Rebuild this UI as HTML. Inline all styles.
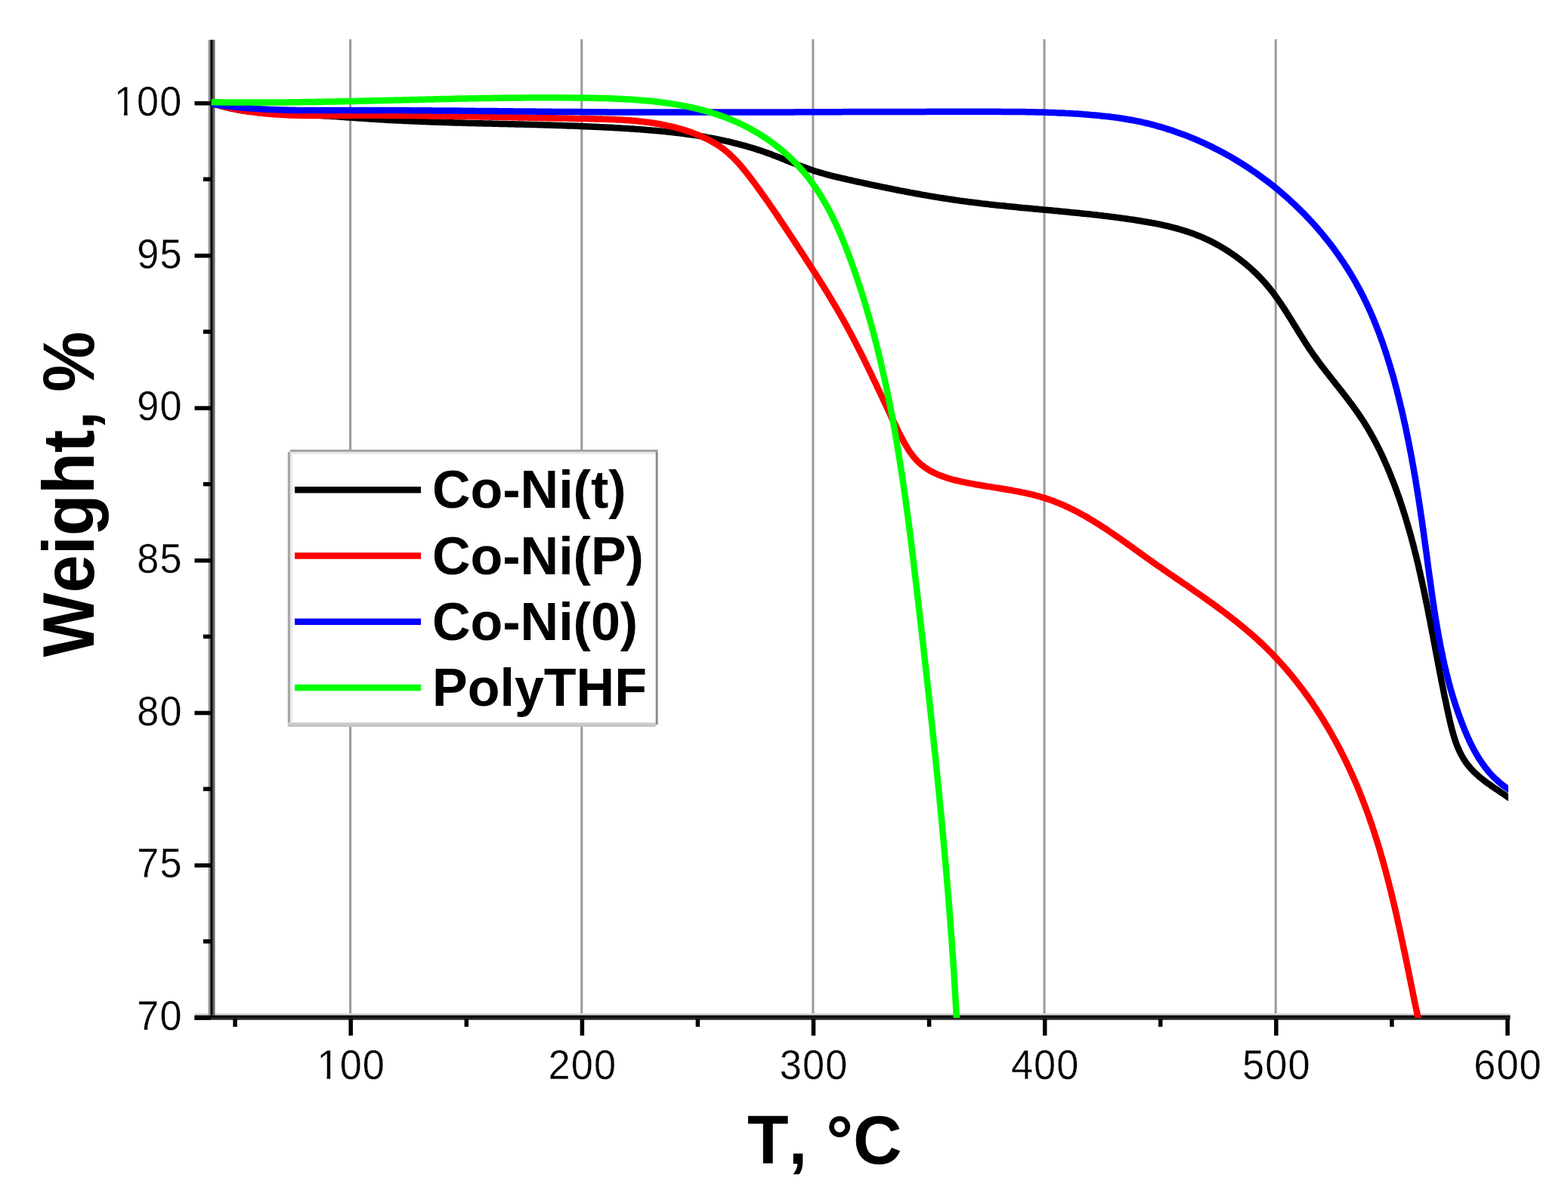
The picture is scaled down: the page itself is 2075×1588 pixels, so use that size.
<!DOCTYPE html><html><head><meta charset="utf-8"><title>TGA curves</title><style>
html,body{margin:0;padding:0;background:#fff;}body{width:2075px;height:1588px;overflow:hidden;}svg{display:block;}
text{font-family:"Liberation Sans",Arial,sans-serif;fill:#000;font-kerning:none;}
</style></head><body>
<svg width="2075" height="1588" viewBox="0 0 2075 1588">
<rect width="2075" height="1588" fill="#fff"/>
<defs><clipPath id="pc"><rect x="278.3" y="52.0" width="1717.7" height="1295.0"/></clipPath>
</defs>
<rect x="462.10" y="52.00" width="3.00" height="1289.00" fill="#9a9a9a"/>
<rect x="768.25" y="52.00" width="3.00" height="1289.00" fill="#9a9a9a"/>
<rect x="1074.40" y="52.00" width="3.00" height="1289.00" fill="#9a9a9a"/>
<rect x="1380.55" y="52.00" width="3.00" height="1289.00" fill="#9a9a9a"/>
<rect x="1686.70" y="52.00" width="3.00" height="1289.00" fill="#9a9a9a"/>
<rect x="257.50" y="1340.90" width="1741.00" height="3.10" fill="#d8d8d8"/>
<rect x="275.50" y="52.70" width="3.50" height="1290.90" fill="#9c9c9c"/>
<rect x="281.00" y="52.70" width="3.50" height="1290.90" fill="#666"/>
<rect x="278.40" y="52.70" width="3.00" height="1290.90" fill="#000"/>
<rect x="257.50" y="1346.00" width="1741.00" height="3.70" fill="#282828"/>
<rect x="257.50" y="1343.60" width="1741.00" height="2.90" fill="#000"/>
<g clip-path="url(#pc)" fill="none" stroke-width="8.5" stroke-linejoin="round">
<path d="M280.0,136.0L282.8,137.0 285.7,137.9 288.5,138.9 291.4,139.7 294.3,140.6 297.1,141.4 300.1,142.1 303.0,142.8 305.9,143.5 308.8,144.1 311.8,144.7 314.7,145.2 317.7,145.7 320.6,146.2 323.6,146.6 326.6,147.1 329.5,147.4 332.5,147.8 335.5,148.1 338.5,148.4 341.5,148.7 344.4,149.0 347.4,149.2 350.4,149.4 353.4,149.6 356.4,149.8 359.4,150.0 362.4,150.2 365.4,150.3 368.4,150.4 371.4,150.6 374.4,150.7 377.4,150.8 380.4,150.9 383.3,151.0 386.3,151.1 389.3,151.3 392.3,151.4 395.3,151.5 398.3,151.6 401.3,151.7 404.3,151.9 407.3,152.0 410.3,152.2 413.3,152.3 416.3,152.5 419.3,152.7 422.3,152.8 425.3,153.0 428.3,153.2 431.3,153.4 434.2,153.6 437.2,153.7 440.2,153.9 443.2,154.1 446.2,154.3 449.2,154.5 452.2,154.8 455.2,155.0 458.2,155.2 461.2,155.4 464.2,155.6 467.1,155.8 470.1,156.0 473.1,156.2 476.1,156.4 479.1,156.6 482.1,156.8 485.1,157.0 488.1,157.2 491.1,157.4 494.1,157.6 497.1,157.8 500.0,158.0 503.0,158.2 506.0,158.3 509.0,158.5 512.0,158.7 515.0,158.9 518.0,159.0 521.0,159.2 524.0,159.3 527.0,159.5 530.0,159.6 533.0,159.8 536.0,159.9 539.0,160.1 542.0,160.2 544.9,160.3 547.9,160.5 550.9,160.6 553.9,160.7 556.9,160.8 559.9,160.9 562.9,161.1 565.9,161.2 568.9,161.3 571.9,161.4 574.9,161.5 577.9,161.6 580.9,161.7 583.9,161.8 586.9,161.9 589.9,162.0 592.9,162.1 595.9,162.2 598.9,162.3 601.9,162.4 604.9,162.4 607.9,162.5 610.9,162.6 613.9,162.7 616.8,162.8 619.8,162.9 622.8,162.9 625.8,163.0 628.8,163.1 631.8,163.2 634.8,163.2 637.8,163.3 640.8,163.4 643.8,163.5 646.8,163.5 649.8,163.6 652.8,163.7 655.8,163.8 658.8,163.8 661.8,163.9 664.8,164.0 667.8,164.0 670.8,164.1 673.8,164.2 676.8,164.3 679.8,164.3 682.8,164.4 685.8,164.5 688.8,164.5 691.8,164.6 694.8,164.7 697.8,164.8 700.8,164.8 703.8,164.9 706.7,165.0 709.7,165.1 712.7,165.2 715.7,165.2 718.7,165.3 721.7,165.4 724.7,165.5 727.7,165.6 730.7,165.7 733.7,165.8 736.7,165.9 739.7,166.0 742.7,166.1 745.7,166.2 748.7,166.3 751.7,166.4 754.7,166.5 757.7,166.6 760.7,166.7 763.7,166.8 766.7,166.9 769.7,167.0 772.7,167.2 775.7,167.3 778.7,167.4 781.6,167.5 784.6,167.7 787.6,167.8 790.6,167.9 793.6,168.1 796.6,168.2 799.6,168.4 802.6,168.5 805.6,168.7 808.6,168.8 811.6,169.0 814.6,169.2 817.6,169.3 820.6,169.5 823.6,169.7 826.5,169.9 829.5,170.1 832.5,170.3 835.5,170.4 838.5,170.6 841.5,170.9 844.5,171.1 847.5,171.3 850.5,171.5 853.5,171.7 856.5,172.0 859.4,172.2 862.4,172.5 865.4,172.7 868.4,173.0 871.4,173.3 874.4,173.5 877.4,173.8 880.3,174.1 883.3,174.4 886.3,174.8 889.3,175.1 892.3,175.4 895.2,175.8 898.2,176.1 901.2,176.5 904.2,176.9 907.1,177.3 910.1,177.7 913.1,178.1 916.0,178.5 919.0,178.9 922.0,179.4 924.9,179.9 927.9,180.3 930.8,180.8 933.8,181.3 936.7,181.9 939.7,182.4 942.6,182.9 945.6,183.5 948.5,184.1 951.5,184.7 954.4,185.3 957.3,185.9 960.3,186.6 963.2,187.2 966.1,187.9 969.0,188.6 971.9,189.3 974.8,190.0 977.7,190.8 980.6,191.6 983.5,192.3 986.4,193.1 989.3,194.0 992.2,194.8 995.1,195.7 997.9,196.5 1000.8,197.4 1003.6,198.4 1006.5,199.3 1009.3,200.3 1012.2,201.2 1015.0,202.2 1017.8,203.3 1020.6,204.3 1023.4,205.4 1026.2,206.4 1029.0,207.5 1031.8,208.6 1034.6,209.7 1037.4,210.8 1040.1,212.0 1042.9,213.1 1045.7,214.2 1048.5,215.3 1051.3,216.4 1054.1,217.5 1056.9,218.6 1059.6,219.7 1062.5,220.8 1065.3,221.8 1068.1,222.8 1070.9,223.8 1073.7,224.8 1076.6,225.7 1079.4,226.7 1082.3,227.5 1085.2,228.4 1088.1,229.2 1090.9,230.0 1093.8,230.8 1096.7,231.6 1099.6,232.4 1102.5,233.1 1105.5,233.8 1108.4,234.5 1111.3,235.2 1114.2,235.9 1117.1,236.5 1120.0,237.2 1123.0,237.9 1125.9,238.5 1128.8,239.2 1131.8,239.8 1134.7,240.5 1137.6,241.1 1140.5,241.7 1143.5,242.4 1146.4,243.0 1149.3,243.6 1152.3,244.3 1155.2,244.9 1158.1,245.5 1161.1,246.1 1164.0,246.7 1166.9,247.3 1169.9,247.9 1172.8,248.5 1175.7,249.1 1178.7,249.7 1181.6,250.3 1184.6,250.9 1187.5,251.5 1190.4,252.1 1193.4,252.6 1196.3,253.2 1199.3,253.8 1202.2,254.3 1205.2,254.9 1208.1,255.4 1211.1,256.0 1214.0,256.5 1217.0,257.0 1219.9,257.6 1222.9,258.1 1225.8,258.6 1228.8,259.1 1231.7,259.6 1234.7,260.1 1237.6,260.6 1240.6,261.1 1243.6,261.6 1246.5,262.0 1249.5,262.5 1252.4,262.9 1255.4,263.4 1258.4,263.8 1261.3,264.3 1264.3,264.7 1267.3,265.1 1270.2,265.6 1273.2,266.0 1276.2,266.4 1279.1,266.8 1282.1,267.2 1285.1,267.5 1288.1,267.9 1291.0,268.3 1294.0,268.6 1297.0,269.0 1300.0,269.4 1302.9,269.7 1305.9,270.0 1308.9,270.4 1311.9,270.7 1314.9,271.0 1317.8,271.4 1320.8,271.7 1323.8,272.0 1326.8,272.3 1329.8,272.6 1332.7,272.9 1335.7,273.2 1338.7,273.5 1341.7,273.8 1344.7,274.1 1347.7,274.4 1350.6,274.7 1353.6,275.0 1356.6,275.2 1359.6,275.5 1362.6,275.8 1365.6,276.1 1368.6,276.4 1371.5,276.6 1374.5,276.9 1377.5,277.2 1380.5,277.5 1383.5,277.7 1386.5,278.0 1389.4,278.3 1392.4,278.6 1395.4,278.9 1398.4,279.1 1401.4,279.4 1404.4,279.7 1407.4,280.0 1410.3,280.3 1413.3,280.6 1416.3,280.9 1419.3,281.2 1422.3,281.5 1425.3,281.8 1428.2,282.1 1431.2,282.4 1434.2,282.7 1437.2,283.0 1440.2,283.3 1443.1,283.6 1446.1,284.0 1449.1,284.3 1452.1,284.6 1455.1,285.0 1458.0,285.3 1461.0,285.7 1464.0,286.0 1467.0,286.4 1469.9,286.8 1472.9,287.1 1475.9,287.5 1478.9,287.9 1481.8,288.3 1484.8,288.7 1487.8,289.1 1490.7,289.5 1493.7,290.0 1496.7,290.4 1499.6,290.8 1502.6,291.3 1505.6,291.7 1508.5,292.2 1511.5,292.7 1514.4,293.2 1517.4,293.7 1520.3,294.2 1523.3,294.7 1526.2,295.3 1529.2,295.8 1532.1,296.4 1535.1,297.0 1538.0,297.6 1540.9,298.3 1543.8,298.9 1546.8,299.6 1549.7,300.3 1552.6,301.1 1555.5,301.8 1558.4,302.6 1561.3,303.5 1564.1,304.3 1567.0,305.2 1569.9,306.1 1572.7,307.0 1575.5,308.0 1578.4,309.0 1581.2,310.1 1584.0,311.2 1586.7,312.3 1589.5,313.4 1592.3,314.6 1595.0,315.9 1597.7,317.1 1600.4,318.4 1603.1,319.7 1605.8,321.1 1608.4,322.5 1611.1,323.9 1613.7,325.4 1616.3,326.9 1618.8,328.4 1621.4,330.0 1623.9,331.6 1626.5,333.2 1629.0,334.9 1631.4,336.6 1633.9,338.3 1636.3,340.0 1638.7,341.8 1641.1,343.6 1643.5,345.5 1645.8,347.3 1648.2,349.2 1650.4,351.2 1652.7,353.1 1655.0,355.1 1657.2,357.1 1659.4,359.2 1661.5,361.2 1663.7,363.3 1665.8,365.5 1667.9,367.6 1669.9,369.8 1672.0,372.0 1674.0,374.2 1675.9,376.5 1677.8,378.8 1679.8,381.1 1681.6,383.5 1683.5,385.8 1685.3,388.2 1687.1,390.6 1688.8,393.0 1690.6,395.5 1692.3,397.9 1694.0,400.4 1695.7,402.9 1697.3,405.4 1699.0,407.9 1700.6,410.4 1702.2,412.9 1703.8,415.4 1705.4,418.0 1707.0,420.5 1708.6,423.1 1710.2,425.6 1711.8,428.2 1713.3,430.7 1714.9,433.3 1716.5,435.8 1718.0,438.4 1719.6,440.9 1721.2,443.5 1722.8,446.0 1724.4,448.6 1726.0,451.1 1727.6,453.6 1729.2,456.2 1730.9,458.7 1732.5,461.2 1734.2,463.6 1735.9,466.1 1737.6,468.6 1739.3,471.0 1741.1,473.4 1742.9,475.9 1744.6,478.3 1746.4,480.7 1748.2,483.1 1750.0,485.5 1751.9,487.8 1753.7,490.2 1755.5,492.6 1757.4,494.9 1759.2,497.3 1761.1,499.7 1762.9,502.0 1764.8,504.4 1766.7,506.7 1768.5,509.1 1770.4,511.4 1772.3,513.8 1774.1,516.1 1776.0,518.5 1777.8,520.8 1779.6,523.2 1781.5,525.6 1783.3,528.0 1785.1,530.3 1786.9,532.7 1788.7,535.1 1790.5,537.6 1792.2,540.0 1794.0,542.4 1795.7,544.9 1797.4,547.3 1799.1,549.8 1800.8,552.3 1802.5,554.8 1804.1,557.3 1805.7,559.8 1807.3,562.4 1808.9,564.9 1810.4,567.5 1811.9,570.1 1813.4,572.7 1814.9,575.3 1816.4,577.9 1817.8,580.5 1819.2,583.2 1820.6,585.8 1822.0,588.5 1823.3,591.2 1824.7,593.8 1826.0,596.5 1827.3,599.2 1828.6,601.9 1829.8,604.7 1831.1,607.4 1832.3,610.1 1833.5,612.9 1834.7,615.6 1835.9,618.4 1837.1,621.1 1838.2,623.9 1839.4,626.7 1840.5,629.4 1841.6,632.2 1842.7,635.0 1843.8,637.8 1844.9,640.6 1845.9,643.4 1847.0,646.2 1848.0,649.0 1849.0,651.9 1850.0,654.7 1851.0,657.5 1852.0,660.3 1853.0,663.2 1853.9,666.0 1854.9,668.9 1855.8,671.7 1856.7,674.6 1857.6,677.4 1858.5,680.3 1859.4,683.1 1860.3,686.0 1861.2,688.9 1862.0,691.8 1862.9,694.6 1863.7,697.5 1864.5,700.4 1865.4,703.3 1866.2,706.2 1867.0,709.0 1867.8,711.9 1868.5,714.8 1869.3,717.7 1870.1,720.6 1870.8,723.5 1871.6,726.4 1872.3,729.3 1873.0,732.2 1873.8,735.2 1874.5,738.1 1875.2,741.0 1875.9,743.9 1876.6,746.8 1877.3,749.7 1877.9,752.7 1878.6,755.6 1879.3,758.5 1879.9,761.4 1880.6,764.3 1881.2,767.3 1881.9,770.2 1882.5,773.1 1883.1,776.1 1883.8,779.0 1884.4,781.9 1885.0,784.9 1885.6,787.8 1886.2,790.7 1886.8,793.7 1887.4,796.6 1888.0,799.5 1888.6,802.5 1889.2,805.4 1889.8,808.4 1890.4,811.3 1890.9,814.2 1891.5,817.2 1892.1,820.1 1892.7,823.1 1893.2,826.0 1893.8,829.0 1894.4,831.9 1894.9,834.8 1895.5,837.8 1896.1,840.7 1896.6,843.7 1897.2,846.6 1897.7,849.6 1898.3,852.5 1898.9,855.5 1899.4,858.4 1900.0,861.3 1900.5,864.3 1901.1,867.2 1901.7,870.2 1902.2,873.1 1902.8,876.1 1903.3,879.0 1903.9,882.0 1904.5,884.9 1905.0,887.8 1905.6,890.8 1906.2,893.7 1906.8,896.7 1907.3,899.6 1907.9,902.6 1908.5,905.5 1909.1,908.4 1909.7,911.4 1910.3,914.3 1910.8,917.3 1911.4,920.2 1912.0,923.1 1912.7,926.1 1913.3,929.0 1913.9,931.9 1914.5,934.9 1915.1,937.8 1915.8,940.7 1916.4,943.7 1917.0,946.6 1917.7,949.5 1918.3,952.4 1919.0,955.4 1919.7,958.3 1920.4,961.2 1921.1,964.1 1921.9,967.0 1922.7,969.9 1923.5,972.8 1924.4,975.6 1925.3,978.5 1926.2,981.3 1927.3,984.2 1928.3,987.0 1929.5,989.7 1930.7,992.5 1931.9,995.2 1933.3,997.9 1934.7,1000.5 1936.2,1003.1 1937.7,1005.7 1939.4,1008.2 1941.1,1010.6 1943.0,1013.0 1944.9,1015.3 1946.8,1017.6 1948.9,1019.7 1951.0,1021.9 1953.2,1023.9 1955.4,1025.9 1957.7,1027.9 1960.0,1029.8 1962.3,1031.7 1964.7,1033.5 1967.1,1035.3 1969.5,1037.1 1972.0,1038.8 1974.4,1040.5 1976.9,1042.2 1979.4,1043.9 1981.9,1045.6 1984.3,1047.3 1986.8,1048.9 1989.3,1050.6 1991.8,1052.3 1994.3,1054.0 1996.8,1055.7 1999.2,1057.4 2001.6,1059.1" stroke="#000"/>
<path d="M279.9,136.4L282.8,137.3 285.6,138.1 288.5,139.0 291.4,139.8 294.3,140.5 297.2,141.3 300.1,142.0 303.1,142.7 306.0,143.3 308.9,143.9 311.8,144.5 314.8,145.1 317.7,145.7 320.7,146.2 323.6,146.7 326.6,147.2 329.6,147.6 332.5,148.0 335.5,148.4 338.5,148.8 341.5,149.2 344.4,149.5 347.4,149.9 350.4,150.2 353.4,150.4 356.4,150.7 359.3,150.9 362.3,151.2 365.3,151.4 368.3,151.6 371.3,151.8 374.3,151.9 377.3,152.1 380.3,152.2 383.3,152.4 386.3,152.5 389.3,152.6 392.3,152.7 395.3,152.7 398.3,152.8 401.3,152.9 404.3,152.9 407.3,152.9 410.3,153.0 413.3,153.0 416.3,153.0 419.2,153.0 422.2,153.0 425.2,153.0 428.2,153.0 431.2,153.0 434.2,153.0 437.2,153.0 440.2,153.0 443.2,153.0 446.2,153.0 449.2,152.9 452.2,152.9 455.2,152.9 458.2,152.9 461.2,152.9 464.2,152.9 467.2,152.8 470.2,152.8 473.2,152.8 476.2,152.8 479.2,152.8 482.2,152.8 485.2,152.8 488.2,152.8 491.2,152.8 494.2,152.8 497.2,152.8 500.2,152.8 503.2,152.8 506.2,152.8 509.2,152.8 512.2,152.9 515.2,152.9 518.2,152.9 521.2,152.9 524.2,152.9 527.2,152.9 530.2,153.0 533.2,153.0 536.2,153.0 539.2,153.0 542.1,153.1 545.1,153.1 548.1,153.1 551.1,153.1 554.1,153.2 557.1,153.2 560.1,153.2 563.1,153.3 566.1,153.3 569.1,153.4 572.1,153.4 575.1,153.4 578.1,153.5 581.1,153.5 584.1,153.6 587.1,153.6 590.1,153.6 593.1,153.7 596.1,153.7 599.1,153.8 602.1,153.8 605.1,153.9 608.1,153.9 611.1,154.0 614.1,154.0 617.1,154.1 620.1,154.1 623.1,154.2 626.1,154.2 629.1,154.3 632.1,154.3 635.1,154.4 638.1,154.4 641.1,154.5 644.1,154.6 647.1,154.6 650.0,154.7 653.0,154.7 656.0,154.8 659.0,154.8 662.0,154.9 665.0,155.0 668.0,155.0 671.0,155.1 674.0,155.1 677.0,155.2 680.0,155.3 683.0,155.3 686.0,155.4 689.0,155.4 692.0,155.5 695.0,155.6 698.0,155.6 701.0,155.7 704.0,155.7 707.0,155.8 710.0,155.9 713.0,155.9 716.0,156.0 719.0,156.0 722.0,156.1 725.0,156.2 728.0,156.2 731.0,156.3 734.0,156.3 737.0,156.4 740.0,156.5 743.0,156.5 746.0,156.6 748.9,156.6 751.9,156.7 754.9,156.7 757.9,156.8 760.9,156.9 763.9,156.9 766.9,157.0 769.9,157.0 772.9,157.1 775.9,157.1 778.9,157.2 781.9,157.2 784.9,157.3 787.9,157.4 790.9,157.4 793.9,157.5 796.9,157.6 799.9,157.7 802.9,157.8 805.9,157.9 808.9,158.0 811.9,158.1 814.9,158.2 817.9,158.4 820.9,158.5 823.9,158.7 826.8,158.9 829.8,159.1 832.8,159.3 835.8,159.6 838.8,159.8 841.8,160.1 844.8,160.4 847.8,160.7 850.7,161.0 853.7,161.4 856.7,161.7 859.7,162.1 862.6,162.5 865.6,163.0 868.5,163.5 871.5,164.0 874.5,164.5 877.4,165.1 880.3,165.6 883.3,166.3 886.2,166.9 889.1,167.6 892.0,168.3 894.9,169.0 897.8,169.8 900.7,170.6 903.6,171.5 906.4,172.4 909.3,173.3 912.1,174.3 915.0,175.3 917.8,176.3 920.6,177.4 923.4,178.5 926.1,179.6 928.9,180.8 931.6,182.1 934.3,183.3 937.0,184.7 939.7,186.1 942.3,187.5 944.9,189.0 947.5,190.5 950.0,192.1 952.5,193.8 954.9,195.5 957.4,197.3 959.7,199.1 962.0,201.0 964.3,203.0 966.5,205.0 968.7,207.1 970.9,209.2 973.0,211.3 975.0,213.5 977.1,215.7 979.0,217.9 981.0,220.2 982.9,222.5 984.8,224.8 986.7,227.1 988.6,229.5 990.4,231.8 992.3,234.2 994.1,236.6 995.9,239.0 997.7,241.4 999.4,243.8 1001.2,246.2 1003.0,248.6 1004.7,251.1 1006.5,253.5 1008.2,255.9 1010.0,258.4 1011.7,260.8 1013.4,263.3 1015.2,265.7 1016.9,268.2 1018.6,270.7 1020.3,273.1 1022.0,275.6 1023.7,278.1 1025.4,280.5 1027.0,283.0 1028.7,285.5 1030.4,288.0 1032.1,290.5 1033.7,293.0 1035.4,295.5 1037.1,298.0 1038.7,300.5 1040.4,303.0 1042.0,305.5 1043.7,308.0 1045.3,310.5 1047.0,313.0 1048.6,315.5 1050.3,318.0 1051.9,320.5 1053.6,323.0 1055.2,325.5 1056.8,328.0 1058.5,330.5 1060.1,333.0 1061.8,335.5 1063.4,338.0 1065.0,340.6 1066.7,343.1 1068.3,345.6 1069.9,348.1 1071.6,350.6 1073.2,353.1 1074.8,355.7 1076.4,358.2 1078.0,360.7 1079.7,363.2 1081.3,365.8 1082.9,368.3 1084.5,370.8 1086.1,373.4 1087.7,375.9 1089.2,378.4 1090.8,381.0 1092.4,383.5 1094.0,386.1 1095.5,388.6 1097.1,391.2 1098.7,393.8 1100.2,396.3 1101.7,398.9 1103.3,401.5 1104.8,404.1 1106.3,406.6 1107.8,409.2 1109.3,411.8 1110.8,414.4 1112.3,417.0 1113.8,419.6 1115.3,422.2 1116.8,424.9 1118.2,427.5 1119.7,430.1 1121.1,432.7 1122.5,435.4 1123.9,438.0 1125.4,440.6 1126.8,443.3 1128.2,445.9 1129.6,448.6 1131.0,451.3 1132.3,453.9 1133.7,456.6 1135.1,459.2 1136.4,461.9 1137.8,464.6 1139.2,467.3 1140.5,469.9 1141.8,472.6 1143.2,475.3 1144.5,478.0 1145.8,480.7 1147.1,483.4 1148.5,486.1 1149.8,488.8 1151.1,491.5 1152.4,494.2 1153.7,496.9 1155.0,499.6 1156.3,502.3 1157.6,505.0 1158.9,507.7 1160.2,510.4 1161.4,513.1 1162.7,515.8 1164.0,518.5 1165.3,521.2 1166.6,523.9 1167.8,526.6 1169.1,529.4 1170.4,532.1 1171.7,534.8 1172.9,537.5 1174.2,540.2 1175.5,542.9 1176.8,545.6 1178.0,548.3 1179.3,551.1 1180.6,553.8 1181.9,556.5 1183.2,559.2 1184.5,561.9 1185.8,564.6 1187.1,567.3 1188.4,570.0 1189.7,572.7 1191.1,575.3 1192.5,578.0 1193.9,580.6 1195.3,583.3 1196.7,585.9 1198.2,588.5 1199.8,591.1 1201.3,593.6 1202.9,596.2 1204.6,598.6 1206.4,601.1 1208.2,603.5 1210.1,605.8 1212.0,608.0 1214.1,610.2 1216.3,612.3 1218.5,614.3 1220.8,616.2 1223.2,618.0 1225.7,619.7 1228.2,621.3 1230.8,622.9 1233.4,624.3 1236.1,625.7 1238.8,626.9 1241.5,628.1 1244.3,629.3 1247.1,630.3 1249.9,631.3 1252.8,632.3 1255.6,633.2 1258.5,634.0 1261.4,634.8 1264.3,635.5 1267.2,636.2 1270.2,636.9 1273.1,637.6 1276.0,638.2 1279.0,638.8 1281.9,639.3 1284.8,639.9 1287.8,640.4 1290.7,641.0 1293.7,641.5 1296.6,642.0 1299.6,642.5 1302.6,643.0 1305.5,643.5 1308.5,643.9 1311.4,644.4 1314.4,644.9 1317.4,645.4 1320.3,645.8 1323.3,646.3 1326.2,646.8 1329.2,647.3 1332.1,647.8 1335.1,648.3 1338.1,648.8 1341.0,649.3 1344.0,649.9 1346.9,650.4 1349.8,651.0 1352.8,651.6 1355.7,652.2 1358.6,652.9 1361.6,653.5 1364.5,654.2 1367.4,654.9 1370.3,655.7 1373.2,656.4 1376.1,657.2 1379.0,658.1 1381.8,658.9 1384.7,659.8 1387.5,660.8 1390.4,661.8 1393.2,662.8 1396.0,663.9 1398.8,664.9 1401.6,666.1 1404.3,667.2 1407.1,668.4 1409.8,669.6 1412.5,670.9 1415.2,672.2 1417.9,673.5 1420.6,674.8 1423.3,676.2 1426.0,677.6 1428.6,679.0 1431.2,680.4 1433.9,681.9 1436.5,683.3 1439.1,684.8 1441.6,686.3 1444.2,687.9 1446.8,689.4 1449.3,691.0 1451.9,692.6 1454.4,694.2 1456.9,695.8 1459.5,697.4 1462.0,699.1 1464.5,700.7 1467.0,702.4 1469.4,704.1 1471.9,705.8 1474.4,707.5 1476.9,709.2 1479.3,710.9 1481.8,712.6 1484.2,714.3 1486.7,716.1 1489.1,717.8 1491.6,719.5 1494.0,721.3 1496.4,723.0 1498.9,724.8 1501.3,726.5 1503.7,728.3 1506.2,730.0 1508.6,731.8 1511.0,733.5 1513.5,735.3 1515.9,737.0 1518.3,738.8 1520.8,740.5 1523.2,742.2 1525.7,744.0 1528.1,745.7 1530.6,747.4 1533.0,749.1 1535.5,750.8 1538.0,752.5 1540.4,754.3 1542.9,756.0 1545.4,757.7 1547.8,759.4 1550.3,761.1 1552.8,762.8 1555.2,764.5 1557.7,766.2 1560.2,767.8 1562.7,769.5 1565.1,771.2 1567.6,772.9 1570.1,774.6 1572.5,776.3 1575.0,778.0 1577.5,779.7 1579.9,781.5 1582.4,783.2 1584.8,784.9 1587.3,786.6 1589.8,788.3 1592.2,790.0 1594.7,791.8 1597.1,793.5 1599.5,795.3 1602.0,797.0 1604.4,798.7 1606.8,800.5 1609.3,802.3 1611.7,804.0 1614.1,805.8 1616.5,807.6 1618.9,809.4 1621.3,811.2 1623.7,813.0 1626.1,814.8 1628.4,816.7 1630.8,818.5 1633.2,820.4 1635.5,822.2 1637.9,824.1 1640.2,826.0 1642.5,827.9 1644.8,829.8 1647.1,831.7 1649.4,833.6 1651.7,835.6 1654.0,837.5 1656.3,839.5 1658.5,841.4 1660.7,843.4 1663.0,845.4 1665.2,847.5 1667.4,849.5 1669.6,851.5 1671.8,853.6 1673.9,855.7 1676.1,857.8 1678.2,859.9 1680.3,862.0 1682.4,864.1 1684.5,866.3 1686.6,868.5 1688.6,870.6 1690.7,872.8 1692.7,875.0 1694.7,877.2 1696.7,879.5 1698.7,881.7 1700.7,884.0 1702.7,886.2 1704.6,888.5 1706.5,890.8 1708.5,893.1 1710.4,895.4 1712.3,897.8 1714.1,900.1 1716.0,902.4 1717.8,904.8 1719.7,907.2 1721.5,909.6 1723.3,911.9 1725.1,914.3 1726.9,916.8 1728.6,919.2 1730.4,921.6 1732.1,924.1 1733.9,926.5 1735.6,929.0 1737.3,931.4 1738.9,933.9 1740.6,936.4 1742.3,938.9 1743.9,941.4 1745.5,943.9 1747.2,946.5 1748.8,949.0 1750.3,951.5 1751.9,954.1 1753.5,956.7 1755.0,959.2 1756.6,961.8 1758.1,964.4 1759.6,967.0 1761.1,969.6 1762.6,972.2 1764.0,974.8 1765.5,977.4 1766.9,980.0 1768.4,982.7 1769.8,985.3 1771.2,988.0 1772.6,990.6 1774.0,993.3 1775.3,995.9 1776.7,998.6 1778.0,1001.3 1779.4,1004.0 1780.7,1006.7 1782.0,1009.4 1783.3,1012.1 1784.6,1014.8 1785.8,1017.5 1787.1,1020.2 1788.3,1022.9 1789.6,1025.7 1790.8,1028.4 1792.0,1031.2 1793.2,1033.9 1794.4,1036.7 1795.6,1039.4 1796.7,1042.2 1797.9,1044.9 1799.0,1047.7 1800.1,1050.5 1801.2,1053.3 1802.3,1056.1 1803.4,1058.9 1804.5,1061.7 1805.6,1064.5 1806.6,1067.3 1807.7,1070.1 1808.7,1072.9 1809.7,1075.7 1810.8,1078.5 1811.8,1081.3 1812.7,1084.2 1813.7,1087.0 1814.7,1089.8 1815.7,1092.7 1816.6,1095.5 1817.6,1098.4 1818.5,1101.2 1819.4,1104.1 1820.3,1106.9 1821.2,1109.8 1822.1,1112.6 1823.0,1115.5 1823.9,1118.4 1824.8,1121.2 1825.6,1124.1 1826.5,1127.0 1827.3,1129.9 1828.1,1132.7 1829.0,1135.6 1829.8,1138.5 1830.6,1141.4 1831.4,1144.3 1832.2,1147.2 1833.0,1150.1 1833.8,1153.0 1834.5,1155.9 1835.3,1158.8 1836.1,1161.7 1836.8,1164.6 1837.6,1167.5 1838.3,1170.4 1839.0,1173.3 1839.8,1176.2 1840.5,1179.1 1841.2,1182.0 1841.9,1184.9 1842.6,1187.8 1843.3,1190.7 1844.0,1193.7 1844.7,1196.6 1845.4,1199.5 1846.1,1202.4 1846.7,1205.3 1847.4,1208.3 1848.1,1211.2 1848.7,1214.1 1849.4,1217.0 1850.0,1220.0 1850.7,1222.9 1851.3,1225.8 1852.0,1228.7 1852.6,1231.7 1853.3,1234.6 1853.9,1237.5 1854.5,1240.5 1855.1,1243.4 1855.8,1246.3 1856.4,1249.2 1857.0,1252.2 1857.6,1255.1 1858.2,1258.0 1858.9,1261.0 1859.5,1263.9 1860.1,1266.9 1860.7,1269.8 1861.3,1272.7 1861.9,1275.7 1862.5,1278.6 1863.1,1281.5 1863.7,1284.5 1864.3,1287.4 1864.9,1290.3 1865.5,1293.3 1866.1,1296.2 1866.7,1299.2 1867.3,1302.1 1867.9,1305.0 1868.5,1308.0 1869.1,1310.9 1869.7,1313.8 1870.3,1316.8 1870.9,1319.7 1871.5,1322.6 1872.1,1325.6 1872.7,1328.5 1873.3,1331.5 1873.9,1334.4 1874.6,1337.3 1875.2,1340.3 1875.8,1343.2 1876.4,1346.1 1877.0,1349.1 1877.6,1352.0 1878.3,1354.9 1878.9,1357.9" stroke="#f00"/>
<path d="M279.7,137.5L282.6,138.0 285.6,138.4 288.6,138.9 291.6,139.3 294.5,139.7 297.5,140.0 300.5,140.4 303.5,140.8 306.4,141.1 309.4,141.4 312.4,141.7 315.4,142.0 318.4,142.3 321.4,142.6 324.4,142.8 327.3,143.1 330.3,143.3 333.3,143.5 336.3,143.7 339.3,143.9 342.3,144.1 345.3,144.3 348.3,144.4 351.3,144.6 354.3,144.7 357.3,144.9 360.3,145.0 363.3,145.1 366.3,145.2 369.3,145.3 372.3,145.4 375.3,145.5 378.3,145.6 381.3,145.7 384.3,145.7 387.3,145.8 390.3,145.8 393.3,145.9 396.3,145.9 399.3,146.0 402.3,146.0 405.3,146.0 408.3,146.0 411.3,146.1 414.3,146.1 417.3,146.1 420.3,146.1 423.3,146.1 426.3,146.1 429.3,146.1 432.3,146.1 435.3,146.1 438.3,146.1 441.3,146.1 444.3,146.1 447.3,146.1 450.3,146.0 453.3,146.0 456.3,146.0 459.3,146.0 462.3,146.0 465.3,146.0 468.3,146.0 471.3,146.0 474.3,146.0 477.3,146.0 480.3,146.0 483.3,146.0 486.3,146.0 489.3,146.0 492.3,146.0 495.3,146.0 498.3,146.0 501.3,146.0 504.3,146.0 507.3,146.0 510.3,146.0 513.3,146.0 516.3,146.0 519.3,146.0 522.3,146.1 525.3,146.1 528.3,146.1 531.3,146.1 534.3,146.1 537.3,146.1 540.3,146.1 543.3,146.2 546.3,146.2 549.3,146.2 552.2,146.2 555.2,146.2 558.2,146.3 561.2,146.3 564.2,146.3 567.2,146.3 570.2,146.3 573.2,146.4 576.2,146.4 579.2,146.4 582.2,146.4 585.2,146.5 588.2,146.5 591.2,146.5 594.2,146.5 597.2,146.6 600.2,146.6 603.2,146.6 606.2,146.6 609.2,146.7 612.2,146.7 615.2,146.7 618.2,146.7 621.2,146.8 624.2,146.8 627.2,146.8 630.2,146.9 633.2,146.9 636.2,146.9 639.2,146.9 642.2,147.0 645.2,147.0 648.2,147.0 651.2,147.1 654.2,147.1 657.2,147.1 660.2,147.2 663.2,147.2 666.2,147.2 669.2,147.2 672.2,147.3 675.2,147.3 678.2,147.3 681.2,147.4 684.2,147.4 687.2,147.4 690.2,147.5 693.2,147.5 696.2,147.5 699.2,147.6 702.2,147.6 705.2,147.6 708.2,147.6 711.2,147.7 714.2,147.7 717.2,147.7 720.2,147.8 723.2,147.8 726.2,147.8 729.2,147.8 732.2,147.9 735.2,147.9 738.2,147.9 741.2,147.9 744.2,148.0 747.2,148.0 750.2,148.0 753.2,148.0 756.2,148.1 759.2,148.1 762.2,148.1 765.2,148.1 768.2,148.1 771.2,148.2 774.2,148.2 777.2,148.2 780.2,148.2 783.2,148.2 786.2,148.3 789.2,148.3 792.2,148.3 795.2,148.3 798.2,148.3 801.2,148.3 804.2,148.4 807.2,148.4 810.2,148.4 813.2,148.4 816.2,148.4 819.2,148.4 822.2,148.4 825.2,148.5 828.2,148.5 831.2,148.5 834.2,148.5 837.2,148.5 840.2,148.5 843.2,148.5 846.2,148.5 849.2,148.5 852.2,148.5 855.2,148.5 858.2,148.6 861.2,148.6 864.2,148.6 867.2,148.6 870.2,148.6 873.2,148.6 876.2,148.6 879.2,148.6 882.2,148.6 885.2,148.6 888.2,148.6 891.2,148.6 894.2,148.6 897.2,148.6 900.2,148.6 903.2,148.6 906.2,148.6 909.2,148.6 912.2,148.6 915.2,148.6 918.2,148.6 921.2,148.6 924.2,148.6 927.2,148.6 930.2,148.6 933.2,148.6 936.2,148.6 939.2,148.6 942.2,148.6 945.2,148.6 948.2,148.6 951.2,148.6 954.2,148.6 957.2,148.6 960.2,148.6 963.2,148.6 966.2,148.6 969.2,148.6 972.2,148.6 975.2,148.5 978.2,148.5 981.2,148.5 984.2,148.5 987.2,148.5 990.2,148.5 993.2,148.5 996.2,148.5 999.2,148.5 1002.2,148.5 1005.2,148.5 1008.2,148.5 1011.2,148.5 1014.2,148.5 1017.2,148.5 1020.2,148.4 1023.2,148.4 1026.2,148.4 1029.2,148.4 1032.2,148.4 1035.2,148.4 1038.2,148.4 1041.2,148.4 1044.2,148.4 1047.2,148.4 1050.2,148.4 1053.2,148.3 1056.2,148.3 1059.2,148.3 1062.2,148.3 1065.2,148.3 1068.2,148.3 1071.2,148.3 1074.2,148.3 1077.2,148.3 1080.2,148.3 1083.2,148.3 1086.2,148.2 1089.2,148.2 1092.2,148.2 1095.2,148.2 1098.2,148.2 1101.2,148.2 1104.2,148.2 1107.2,148.2 1110.2,148.2 1113.2,148.2 1116.2,148.1 1119.2,148.1 1122.2,148.1 1125.2,148.1 1128.2,148.1 1131.2,148.1 1134.2,148.1 1137.2,148.1 1140.2,148.1 1143.2,148.1 1146.2,148.0 1149.2,148.0 1152.2,148.0 1155.2,148.0 1158.2,148.0 1161.2,148.0 1164.2,148.0 1167.2,148.0 1170.2,148.0 1173.2,148.0 1176.2,148.0 1179.2,148.0 1182.2,147.9 1185.2,147.9 1188.2,147.9 1191.2,147.9 1194.2,147.9 1197.2,147.9 1200.2,147.9 1203.2,147.9 1206.2,147.9 1209.2,147.9 1212.2,147.9 1215.2,147.9 1218.2,147.9 1221.2,147.9 1224.2,147.9 1227.2,147.8 1230.2,147.8 1233.2,147.8 1236.2,147.8 1239.2,147.8 1242.2,147.8 1245.2,147.8 1248.2,147.8 1251.2,147.8 1254.2,147.8 1257.2,147.8 1260.2,147.8 1263.2,147.8 1266.2,147.8 1269.2,147.8 1272.2,147.8 1275.2,147.8 1278.2,147.8 1281.2,147.8 1284.2,147.8 1287.2,147.8 1290.2,147.8 1293.2,147.8 1296.2,147.8 1299.2,147.8 1302.2,147.8 1305.2,147.8 1308.2,147.8 1311.2,147.8 1314.2,147.8 1317.2,147.8 1320.2,147.8 1323.2,147.8 1326.2,147.9 1329.2,147.9 1332.2,147.9 1335.2,147.9 1338.2,147.9 1341.2,148.0 1344.2,148.0 1347.2,148.0 1350.2,148.0 1353.2,148.1 1356.2,148.1 1359.2,148.2 1362.2,148.2 1365.2,148.3 1368.2,148.3 1371.2,148.4 1374.1,148.5 1377.1,148.5 1380.1,148.6 1383.1,148.7 1386.1,148.8 1389.1,148.9 1392.1,149.0 1395.1,149.1 1398.1,149.2 1401.1,149.4 1404.1,149.5 1407.1,149.6 1410.1,149.8 1413.1,149.9 1416.1,150.1 1419.1,150.3 1422.1,150.5 1425.1,150.6 1428.1,150.8 1431.1,151.0 1434.1,151.3 1437.1,151.5 1440.1,151.7 1443.0,152.0 1446.0,152.2 1449.0,152.5 1452.0,152.8 1455.0,153.1 1458.0,153.4 1461.0,153.7 1463.9,154.0 1466.9,154.3 1469.9,154.7 1472.9,155.1 1475.9,155.4 1478.8,155.8 1481.8,156.3 1484.8,156.7 1487.7,157.2 1490.7,157.7 1493.6,158.2 1496.6,158.7 1499.5,159.2 1502.5,159.8 1505.4,160.4 1508.4,161.0 1511.3,161.7 1514.2,162.3 1517.1,163.0 1520.1,163.7 1523.0,164.5 1525.9,165.2 1528.8,166.0 1531.7,166.8 1534.5,167.6 1537.4,168.4 1540.3,169.3 1543.2,170.2 1546.0,171.1 1548.9,172.0 1551.7,172.9 1554.6,173.9 1557.4,174.9 1560.2,175.9 1563.0,176.9 1565.9,178.0 1568.7,179.0 1571.5,180.1 1574.2,181.2 1577.0,182.4 1579.8,183.5 1582.6,184.7 1585.3,185.9 1588.1,187.1 1590.8,188.3 1593.5,189.5 1596.2,190.8 1599.0,192.1 1601.7,193.4 1604.4,194.7 1607.0,196.1 1609.7,197.4 1612.4,198.8 1615.0,200.2 1617.7,201.6 1620.3,203.0 1622.9,204.5 1625.6,205.9 1628.2,207.4 1630.8,208.9 1633.4,210.4 1635.9,212.0 1638.5,213.5 1641.0,215.1 1643.6,216.7 1646.1,218.3 1648.7,219.9 1651.2,221.6 1653.7,223.2 1656.2,224.9 1658.6,226.6 1661.1,228.3 1663.6,230.0 1666.0,231.8 1668.4,233.5 1670.8,235.3 1673.3,237.1 1675.7,238.9 1678.0,240.7 1680.4,242.5 1682.8,244.4 1685.1,246.2 1687.5,248.1 1689.8,250.0 1692.1,251.9 1694.4,253.9 1696.7,255.8 1698.9,257.8 1701.2,259.7 1703.4,261.7 1705.7,263.7 1707.9,265.8 1710.1,267.8 1712.3,269.8 1714.5,271.9 1716.6,274.0 1718.8,276.1 1720.9,278.2 1723.0,280.3 1725.2,282.4 1727.3,284.6 1729.3,286.7 1731.4,288.9 1733.4,291.1 1735.5,293.3 1737.5,295.5 1739.5,297.7 1741.5,300.0 1743.5,302.2 1745.4,304.5 1747.4,306.8 1749.3,309.1 1751.2,311.4 1753.1,313.7 1755.0,316.1 1756.9,318.4 1758.7,320.8 1760.6,323.1 1762.4,325.5 1764.2,327.9 1766.0,330.3 1767.7,332.8 1769.5,335.2 1771.2,337.6 1772.9,340.1 1774.6,342.6 1776.3,345.1 1778.0,347.5 1779.6,350.1 1781.3,352.6 1782.9,355.1 1784.5,357.6 1786.1,360.2 1787.6,362.8 1789.2,365.3 1790.7,367.9 1792.2,370.5 1793.7,373.1 1795.1,375.7 1796.6,378.4 1798.0,381.0 1799.4,383.6 1800.8,386.3 1802.2,389.0 1803.6,391.6 1804.9,394.3 1806.2,397.0 1807.5,399.7 1808.8,402.4 1810.1,405.1 1811.3,407.9 1812.6,410.6 1813.8,413.4 1815.0,416.1 1816.2,418.9 1817.3,421.6 1818.5,424.4 1819.6,427.2 1820.7,429.9 1821.8,432.7 1822.9,435.5 1824.0,438.3 1825.1,441.1 1826.1,443.9 1827.1,446.8 1828.2,449.6 1829.2,452.4 1830.2,455.2 1831.1,458.1 1832.1,460.9 1833.1,463.8 1834.0,466.6 1834.9,469.5 1835.8,472.3 1836.7,475.2 1837.6,478.0 1838.5,480.9 1839.4,483.8 1840.2,486.7 1841.1,489.5 1841.9,492.4 1842.8,495.3 1843.6,498.2 1844.4,501.1 1845.2,504.0 1846.0,506.9 1846.7,509.8 1847.5,512.7 1848.3,515.6 1849.0,518.5 1849.7,521.4 1850.5,524.3 1851.2,527.2 1851.9,530.1 1852.6,533.0 1853.3,535.9 1854.0,538.9 1854.7,541.8 1855.4,544.7 1856.1,547.6 1856.7,550.5 1857.4,553.5 1858.0,556.4 1858.7,559.3 1859.3,562.3 1860.0,565.2 1860.6,568.1 1861.2,571.1 1861.8,574.0 1862.4,576.9 1863.0,579.9 1863.6,582.8 1864.2,585.8 1864.8,588.7 1865.4,591.6 1865.9,594.6 1866.5,597.5 1867.1,600.5 1867.6,603.4 1868.2,606.4 1868.7,609.3 1869.2,612.3 1869.8,615.2 1870.3,618.2 1870.8,621.1 1871.3,624.1 1871.8,627.1 1872.4,630.0 1872.9,633.0 1873.4,635.9 1873.8,638.9 1874.3,641.8 1874.8,644.8 1875.3,647.8 1875.8,650.7 1876.3,653.7 1876.7,656.6 1877.2,659.6 1877.7,662.6 1878.1,665.5 1878.6,668.5 1879.0,671.5 1879.5,674.4 1879.9,677.4 1880.3,680.4 1880.8,683.3 1881.2,686.3 1881.7,689.3 1882.1,692.2 1882.5,695.2 1882.9,698.2 1883.4,701.2 1883.8,704.1 1884.2,707.1 1884.6,710.1 1885.0,713.0 1885.4,716.0 1885.8,719.0 1886.2,721.9 1886.6,724.9 1887.0,727.9 1887.5,730.9 1887.9,733.8 1888.3,736.8 1888.6,739.8 1889.0,742.8 1889.4,745.7 1889.8,748.7 1890.2,751.7 1890.6,754.7 1891.0,757.6 1891.4,760.6 1891.8,763.6 1892.2,766.5 1892.7,769.5 1893.1,772.5 1893.5,775.5 1893.9,778.4 1894.3,781.4 1894.7,784.4 1895.1,787.3 1895.6,790.3 1896.0,793.3 1896.4,796.2 1896.9,799.2 1897.3,802.2 1897.8,805.1 1898.2,808.1 1898.7,811.1 1899.1,814.0 1899.6,817.0 1900.1,820.0 1900.6,822.9 1901.1,825.9 1901.6,828.8 1902.1,831.8 1902.6,834.8 1903.1,837.7 1903.6,840.7 1904.2,843.6 1904.7,846.6 1905.3,849.5 1905.8,852.5 1906.4,855.4 1907.0,858.3 1907.6,861.3 1908.2,864.2 1908.8,867.2 1909.4,870.1 1910.0,873.0 1910.7,876.0 1911.3,878.9 1912.0,881.8 1912.7,884.7 1913.4,887.6 1914.1,890.6 1914.8,893.5 1915.6,896.4 1916.3,899.3 1917.1,902.2 1917.8,905.1 1918.6,908.0 1919.4,910.9 1920.3,913.8 1921.1,916.6 1921.9,919.5 1922.8,922.4 1923.7,925.3 1924.6,928.1 1925.5,931.0 1926.4,933.8 1927.4,936.7 1928.3,939.5 1929.3,942.3 1930.3,945.2 1931.3,948.0 1932.4,950.8 1933.4,953.6 1934.5,956.4 1935.6,959.2 1936.7,962.0 1937.8,964.8 1938.9,967.6 1940.1,970.3 1941.3,973.1 1942.5,975.8 1943.8,978.5 1945.0,981.3 1946.3,984.0 1947.7,986.7 1949.0,989.3 1950.4,992.0 1951.9,994.6 1953.3,997.2 1954.9,999.8 1956.4,1002.4 1958.0,1004.9 1959.7,1007.4 1961.4,1009.9 1963.1,1012.3 1964.9,1014.8 1966.7,1017.1 1968.6,1019.5 1970.5,1021.8 1972.5,1024.0 1974.5,1026.2 1976.6,1028.4 1978.8,1030.5 1981.0,1032.5 1983.2,1034.5 1985.5,1036.5 1987.8,1038.3 1990.2,1040.2 1992.6,1041.9 1995.1,1043.6 1997.6,1045.2 2000.2,1046.8 2002.8,1048.3" stroke="#00f"/>
<path d="M279.6,135.2L282.6,135.2 285.6,135.3 288.6,135.3 291.6,135.3 294.6,135.4 297.6,135.4 300.6,135.4 303.6,135.5 306.6,135.5 309.6,135.5 312.5,135.5 315.5,135.5 318.5,135.6 321.5,135.6 324.5,135.6 327.5,135.6 330.5,135.6 333.5,135.6 336.5,135.6 339.5,135.6 342.5,135.6 345.5,135.6 348.5,135.6 351.5,135.6 354.5,135.6 357.5,135.5 360.5,135.5 363.5,135.5 366.5,135.5 369.5,135.5 372.5,135.4 375.5,135.4 378.5,135.4 381.5,135.4 384.5,135.3 387.5,135.3 390.5,135.3 393.5,135.2 396.5,135.2 399.5,135.1 402.5,135.1 405.5,135.1 408.5,135.0 411.5,135.0 414.5,134.9 417.5,134.9 420.5,134.8 423.5,134.8 426.5,134.7 429.5,134.7 432.5,134.6 435.5,134.6 438.5,134.5 441.5,134.5 444.5,134.4 447.5,134.3 450.5,134.3 453.5,134.2 456.5,134.1 459.4,134.1 462.4,134.0 465.4,134.0 468.4,133.9 471.4,133.8 474.4,133.8 477.4,133.7 480.4,133.6 483.4,133.5 486.4,133.5 489.4,133.4 492.4,133.3 495.4,133.3 498.4,133.2 501.4,133.1 504.4,133.0 507.4,133.0 510.4,132.9 513.4,132.8 516.4,132.8 519.4,132.7 522.4,132.6 525.4,132.5 528.4,132.5 531.4,132.4 534.4,132.3 537.4,132.2 540.4,132.2 543.4,132.1 546.4,132.0 549.4,131.9 552.4,131.9 555.4,131.8 558.4,131.7 561.4,131.7 564.4,131.6 567.4,131.5 570.4,131.4 573.3,131.4 576.3,131.3 579.3,131.2 582.3,131.2 585.3,131.1 588.3,131.0 591.3,131.0 594.3,130.9 597.3,130.8 600.3,130.8 603.3,130.7 606.3,130.6 609.3,130.6 612.3,130.5 615.3,130.4 618.3,130.4 621.3,130.3 624.3,130.3 627.3,130.2 630.3,130.2 633.3,130.1 636.3,130.1 639.3,130.0 642.3,130.0 645.3,129.9 648.3,129.9 651.3,129.8 654.3,129.8 657.3,129.7 660.3,129.7 663.3,129.7 666.3,129.6 669.3,129.6 672.3,129.5 675.3,129.5 678.3,129.5 681.3,129.4 684.3,129.4 687.3,129.4 690.3,129.4 693.3,129.3 696.3,129.3 699.3,129.3 702.3,129.3 705.3,129.3 708.3,129.3 711.2,129.3 714.2,129.2 717.2,129.2 720.2,129.2 723.2,129.2 726.2,129.2 729.2,129.2 732.2,129.2 735.2,129.3 738.2,129.3 741.2,129.3 744.2,129.3 747.2,129.3 750.2,129.3 753.2,129.3 756.2,129.4 759.2,129.4 762.2,129.4 765.2,129.5 768.2,129.5 771.2,129.5 774.2,129.6 777.2,129.6 780.2,129.7 783.2,129.7 786.2,129.8 789.2,129.8 792.2,129.9 795.2,130.0 798.2,130.0 801.2,130.1 804.2,130.2 807.2,130.3 810.2,130.4 813.2,130.5 816.2,130.7 819.2,130.8 822.2,130.9 825.2,131.1 828.1,131.2 831.1,131.4 834.1,131.6 837.1,131.8 840.1,132.0 843.1,132.2 846.1,132.4 849.1,132.7 852.1,132.9 855.1,133.2 858.0,133.5 861.0,133.8 864.0,134.1 867.0,134.4 870.0,134.7 872.9,135.1 875.9,135.5 878.9,135.8 881.9,136.3 884.8,136.7 887.8,137.1 890.8,137.6 893.7,138.1 896.7,138.6 899.6,139.1 902.6,139.6 905.5,140.2 908.5,140.8 911.4,141.4 914.3,142.0 917.3,142.7 920.2,143.3 923.1,144.0 926.0,144.8 928.9,145.5 931.8,146.3 934.7,147.1 937.6,147.9 940.4,148.8 943.3,149.7 946.2,150.6 949.0,151.5 951.9,152.5 954.7,153.5 957.5,154.5 960.3,155.5 963.1,156.6 965.9,157.7 968.7,158.9 971.4,160.0 974.2,161.2 976.9,162.5 979.6,163.7 982.3,165.0 985.0,166.3 987.7,167.7 990.4,169.1 993.0,170.5 995.6,172.0 998.2,173.4 1000.8,175.0 1003.4,176.5 1005.9,178.1 1008.5,179.7 1011.0,181.3 1013.5,183.0 1016.0,184.6 1018.4,186.4 1020.9,188.1 1023.3,189.9 1025.7,191.7 1028.0,193.5 1030.4,195.4 1032.7,197.3 1035.0,199.2 1037.3,201.1 1039.6,203.1 1041.8,205.1 1044.0,207.1 1046.2,209.2 1048.4,211.3 1050.5,213.4 1052.6,215.5 1054.7,217.7 1056.7,219.9 1058.7,222.1 1060.7,224.3 1062.7,226.6 1064.6,228.9 1066.5,231.2 1068.4,233.5 1070.2,235.9 1072.1,238.3 1073.8,240.7 1075.6,243.1 1077.3,245.6 1079.0,248.0 1080.7,250.5 1082.4,253.0 1084.0,255.5 1085.6,258.1 1087.2,260.6 1088.7,263.2 1090.2,265.8 1091.7,268.4 1093.2,271.0 1094.7,273.6 1096.1,276.2 1097.5,278.9 1098.9,281.6 1100.3,284.2 1101.6,286.9 1102.9,289.6 1104.2,292.3 1105.5,295.0 1106.8,297.7 1108.0,300.4 1109.3,303.2 1110.5,305.9 1111.7,308.7 1112.9,311.4 1114.0,314.2 1115.2,316.9 1116.3,319.7 1117.4,322.5 1118.5,325.3 1119.6,328.1 1120.7,330.9 1121.8,333.7 1122.9,336.5 1123.9,339.3 1124.9,342.1 1126.0,344.9 1127.0,347.7 1128.0,350.6 1129.0,353.4 1130.0,356.2 1131.0,359.0 1132.0,361.9 1132.9,364.7 1133.9,367.6 1134.8,370.4 1135.8,373.2 1136.7,376.1 1137.7,378.9 1138.6,381.8 1139.5,384.7 1140.4,387.5 1141.3,390.4 1142.2,393.2 1143.1,396.1 1143.9,399.0 1144.8,401.8 1145.7,404.7 1146.5,407.6 1147.4,410.5 1148.2,413.3 1149.1,416.2 1149.9,419.1 1150.7,422.0 1151.5,424.9 1152.3,427.8 1153.1,430.6 1153.9,433.5 1154.7,436.4 1155.5,439.3 1156.3,442.2 1157.0,445.1 1157.8,448.0 1158.5,450.9 1159.3,453.8 1160.0,456.7 1160.7,459.6 1161.5,462.6 1162.2,465.5 1162.9,468.4 1163.6,471.3 1164.3,474.2 1165.0,477.1 1165.7,480.0 1166.4,483.0 1167.0,485.9 1167.7,488.8 1168.4,491.7 1169.0,494.6 1169.7,497.6 1170.3,500.5 1171.0,503.4 1171.6,506.4 1172.2,509.3 1172.9,512.2 1173.5,515.2 1174.1,518.1 1174.7,521.0 1175.3,524.0 1175.9,526.9 1176.5,529.8 1177.1,532.8 1177.7,535.7 1178.2,538.7 1178.8,541.6 1179.4,544.6 1179.9,547.5 1180.5,550.4 1181.1,553.4 1181.6,556.3 1182.1,559.3 1182.7,562.2 1183.2,565.2 1183.7,568.1 1184.3,571.1 1184.8,574.0 1185.3,577.0 1185.8,580.0 1186.3,582.9 1186.8,585.9 1187.3,588.8 1187.8,591.8 1188.3,594.7 1188.8,597.7 1189.3,600.7 1189.7,603.6 1190.2,606.6 1190.7,609.5 1191.2,612.5 1191.6,615.5 1192.1,618.4 1192.5,621.4 1193.0,624.4 1193.4,627.3 1193.9,630.3 1194.3,633.2 1194.8,636.2 1195.2,639.2 1195.6,642.1 1196.1,645.1 1196.5,648.1 1196.9,651.0 1197.3,654.0 1197.8,657.0 1198.2,660.0 1198.6,662.9 1199.0,665.9 1199.4,668.9 1199.8,671.8 1200.2,674.8 1200.6,677.8 1201.0,680.8 1201.4,683.7 1201.8,686.7 1202.2,689.7 1202.6,692.6 1202.9,695.6 1203.3,698.6 1203.7,701.6 1204.1,704.5 1204.5,707.5 1204.8,710.5 1205.2,713.5 1205.6,716.4 1206.0,719.4 1206.3,722.4 1206.7,725.4 1207.1,728.3 1207.4,731.3 1207.8,734.3 1208.1,737.3 1208.5,740.2 1208.9,743.2 1209.2,746.2 1209.6,749.2 1209.9,752.2 1210.3,755.1 1210.6,758.1 1211.0,761.1 1211.3,764.1 1211.7,767.0 1212.0,770.0 1212.4,773.0 1212.7,776.0 1213.1,779.0 1213.4,781.9 1213.8,784.9 1214.1,787.9 1214.5,790.9 1214.8,793.8 1215.2,796.8 1215.5,799.8 1215.8,802.8 1216.2,805.8 1216.5,808.7 1216.9,811.7 1217.2,814.7 1217.6,817.7 1217.9,820.6 1218.3,823.6 1218.6,826.6 1218.9,829.6 1219.3,832.6 1219.6,835.5 1220.0,838.5 1220.3,841.5 1220.6,844.5 1221.0,847.5 1221.3,850.4 1221.7,853.4 1222.0,856.4 1222.3,859.4 1222.7,862.4 1223.0,865.3 1223.3,868.3 1223.7,871.3 1224.0,874.3 1224.3,877.2 1224.7,880.2 1225.0,883.2 1225.3,886.2 1225.7,889.2 1226.0,892.1 1226.3,895.1 1226.7,898.1 1227.0,901.1 1227.3,904.1 1227.7,907.0 1228.0,910.0 1228.3,913.0 1228.6,916.0 1229.0,919.0 1229.3,921.9 1229.6,924.9 1230.0,927.9 1230.3,930.9 1230.6,933.9 1230.9,936.9 1231.2,939.8 1231.6,942.8 1231.9,945.8 1232.2,948.8 1232.5,951.8 1232.9,954.7 1233.2,957.7 1233.5,960.7 1233.8,963.7 1234.1,966.7 1234.4,969.6 1234.8,972.6 1235.1,975.6 1235.4,978.6 1235.7,981.6 1236.0,984.6 1236.3,987.5 1236.6,990.5 1236.9,993.5 1237.3,996.5 1237.6,999.5 1237.9,1002.4 1238.2,1005.4 1238.5,1008.4 1238.8,1011.4 1239.1,1014.4 1239.4,1017.4 1239.7,1020.3 1240.0,1023.3 1240.3,1026.3 1240.6,1029.3 1240.9,1032.3 1241.2,1035.3 1241.5,1038.2 1241.8,1041.2 1242.1,1044.2 1242.4,1047.2 1242.7,1050.2 1243.0,1053.2 1243.3,1056.1 1243.5,1059.1 1243.8,1062.1 1244.1,1065.1 1244.4,1068.1 1244.7,1071.1 1245.0,1074.0 1245.3,1077.0 1245.6,1080.0 1245.8,1083.0 1246.1,1086.0 1246.4,1089.0 1246.7,1092.0 1247.0,1094.9 1247.2,1097.9 1247.5,1100.9 1247.8,1103.9 1248.1,1106.9 1248.3,1109.9 1248.6,1112.9 1248.9,1115.8 1249.2,1118.8 1249.4,1121.8 1249.7,1124.8 1250.0,1127.8 1250.2,1130.8 1250.5,1133.8 1250.8,1136.7 1251.0,1139.7 1251.3,1142.7 1251.5,1145.7 1251.8,1148.7 1252.0,1151.7 1252.3,1154.7 1252.6,1157.7 1252.8,1160.6 1253.1,1163.6 1253.3,1166.6 1253.6,1169.6 1253.8,1172.6 1254.1,1175.6 1254.3,1178.6 1254.6,1181.6 1254.8,1184.5 1255.0,1187.5 1255.3,1190.5 1255.5,1193.5 1255.8,1196.5 1256.0,1199.5 1256.2,1202.5 1256.5,1205.5 1256.7,1208.5 1256.9,1211.4 1257.2,1214.4 1257.4,1217.4 1257.6,1220.4 1257.8,1223.4 1258.1,1226.4 1258.3,1229.4 1258.5,1232.4 1258.7,1235.4 1259.0,1238.4 1259.2,1241.3 1259.4,1244.3 1259.6,1247.3 1259.8,1250.3 1260.0,1253.3 1260.2,1256.3 1260.5,1259.3 1260.7,1262.3 1260.9,1265.3 1261.1,1268.3 1261.3,1271.3 1261.5,1274.2 1261.7,1277.2 1261.9,1280.2 1262.1,1283.2 1262.3,1286.2 1262.5,1289.2 1262.7,1292.2 1262.8,1295.2 1263.0,1298.2 1263.2,1301.2 1263.4,1304.2 1263.6,1307.2 1263.8,1310.1 1264.0,1313.1 1264.1,1316.1 1264.3,1319.1 1264.5,1322.1 1264.7,1325.1 1264.8,1328.1 1265.0,1331.1 1265.2,1334.1 1265.3,1337.1 1265.5,1340.1 1265.7,1343.1 1265.8,1346.1 1266.0,1349.1 1266.2,1352.1 1266.3,1355.1 1266.5,1358.0" stroke="#0f0"/>
</g>
<g stroke="#000" stroke-width="5.5" fill="none">
<line x1="257.5" y1="1346.9" x2="279.0" y2="1346.9"/>
<line x1="257.5" y1="1145.2" x2="279.0" y2="1145.2"/>
<line x1="257.5" y1="943.5" x2="279.0" y2="943.5"/>
<line x1="257.5" y1="741.8" x2="279.0" y2="741.8"/>
<line x1="257.5" y1="540.1" x2="279.0" y2="540.1"/>
<line x1="257.5" y1="338.4" x2="279.0" y2="338.4"/>
<line x1="257.5" y1="136.7" x2="279.0" y2="136.7"/>
<line x1="269" y1="1245.8" x2="279.0" y2="1245.8"/>
<line x1="269" y1="1044.1" x2="279.0" y2="1044.1"/>
<line x1="269" y1="842.4" x2="279.0" y2="842.4"/>
<line x1="269" y1="640.7" x2="279.0" y2="640.7"/>
<line x1="269" y1="439.0" x2="279.0" y2="439.0"/>
<line x1="269" y1="237.2" x2="279.0" y2="237.2"/>
<line x1="464.2" y1="1348" x2="464.2" y2="1370.5"/>
<line x1="770.4" y1="1348" x2="770.4" y2="1370.5"/>
<line x1="1076.5" y1="1348" x2="1076.5" y2="1370.5"/>
<line x1="1382.7" y1="1348" x2="1382.7" y2="1370.5"/>
<line x1="1688.8" y1="1348" x2="1688.8" y2="1370.5"/>
<line x1="1995.0" y1="1348" x2="1995.0" y2="1370.5"/>
<line x1="311.1" y1="1348" x2="311.1" y2="1358.8"/>
<line x1="617.3" y1="1348" x2="617.3" y2="1358.8"/>
<line x1="923.4" y1="1348" x2="923.4" y2="1358.8"/>
<line x1="1229.6" y1="1348" x2="1229.6" y2="1358.8"/>
<line x1="1535.7" y1="1348" x2="1535.7" y2="1358.8"/>
<line x1="1841.9" y1="1348" x2="1841.9" y2="1358.8"/>
</g>
<g font-size="55" stroke="#fff" stroke-width="0.35">
<text transform="scale(0.95,1)" x="206.13 237.92" y="1363.10" text-anchor="middle">70</text>
<text transform="scale(0.95,1)" x="206.13 237.92" y="1161.40" text-anchor="middle">75</text>
<text transform="scale(0.95,1)" x="206.13 237.92" y="959.70" text-anchor="middle">80</text>
<text transform="scale(0.95,1)" x="206.13 237.92" y="758.00" text-anchor="middle">85</text>
<text transform="scale(0.95,1)" x="206.13 237.92" y="556.30" text-anchor="middle">90</text>
<text transform="scale(0.95,1)" x="206.13 237.92" y="354.60" text-anchor="middle">95</text>
<text transform="scale(0.95,1)" x="174.14 205.93 237.72" y="152.90" text-anchor="middle" clip-path="url(#cy100)">100</text>
<text transform="scale(0.95,1)" x="456.84 488.63 520.42" y="1428.00" text-anchor="middle" clip-path="url(#cx100)">100</text>
<text transform="scale(0.95,1)" x="779.11 810.89 842.68" y="1428.00" text-anchor="middle">200</text>
<text transform="scale(0.95,1)" x="1101.37 1133.16 1164.95" y="1428.00" text-anchor="middle">300</text>
<text transform="scale(0.95,1)" x="1423.63 1455.42 1487.21" y="1428.00" text-anchor="middle">400</text>
<text transform="scale(0.95,1)" x="1745.89 1777.68 1809.47" y="1428.00" text-anchor="middle">500</text>
<text transform="scale(0.95,1)" x="2068.16 2099.95 2131.74" y="1428.00" text-anchor="middle">600</text>
</g>
<defs><clipPath id="cy100"><rect x="134.14" y="72.90" width="143.58" height="75.10"/><rect x="172.69" y="147.50" width="4.80" height="12"/><rect x="189.14" y="147.50" width="103.58" height="12"/></clipPath><clipPath id="cx100"><rect x="416.84" y="1348.00" width="143.58" height="75.10"/><rect x="455.39" y="1422.60" width="4.80" height="12"/><rect x="471.84" y="1422.60" width="103.58" height="12"/></clipPath></defs>
<text transform="translate(989,1539.5) scale(1.015,1.035)" font-size="88" font-weight="bold">T, °C</text>
<text transform="translate(124,654) rotate(-90) scale(0.981,1.047)" font-size="92" font-weight="bold" text-anchor="middle">Weight, %</text>
<rect x="380.80" y="595.00" width="489.80" height="366.80" fill="#fff"/>
<rect x="383.90" y="597.90" width="483.80" height="3.10" fill="#e6e6e6"/>
<rect x="383.90" y="597.90" width="3.10" height="358.30" fill="#e8e8e8"/>
<rect x="383.90" y="595.00" width="486.70" height="2.90" fill="#a2a2a2"/>
<rect x="380.80" y="597.90" width="3.10" height="358.30" fill="#a5a5a5"/>
<rect x="380.80" y="956.20" width="486.90" height="2.90" fill="#cccccc"/>
<rect x="380.80" y="959.10" width="486.90" height="2.70" fill="#c0c0c0"/>
<rect x="867.70" y="597.90" width="2.90" height="361.00" fill="#888888"/>
<line x1="390" y1="648.2" x2="557" y2="648.2" stroke="#000" stroke-width="8.5"/>
<text x="572" y="672.2" font-size="70" font-weight="bold">Co-Ni(t)</text>
<line x1="390" y1="735.5" x2="557" y2="735.5" stroke="#f00" stroke-width="8.5"/>
<text x="572" y="759.5" font-size="70" font-weight="bold">Co-Ni(P)</text>
<line x1="390" y1="822.8" x2="557" y2="822.8" stroke="#00f" stroke-width="8.5"/>
<text x="572" y="846.8" font-size="70" font-weight="bold">Co-Ni(0)</text>
<line x1="390" y1="910.1" x2="557" y2="910.1" stroke="#0f0" stroke-width="8.5"/>
<text x="572" y="934.1" font-size="70" font-weight="bold">PolyTHF</text>
</svg></body></html>
